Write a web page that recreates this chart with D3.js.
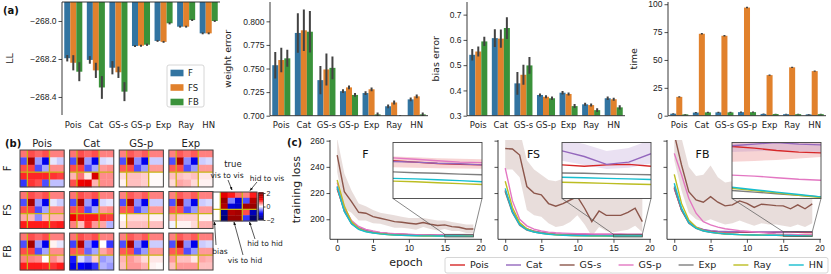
<!DOCTYPE html>
<meta charset="utf-8">
<style>
body { margin: 0; background: #fff; }
svg { font-family: "DejaVu Sans", sans-serif; }
.axis text { font-size: 8.5px; fill: #222; }
.axis line { stroke: #222; stroke-width: 0.8; }
.axis path { display: none; }
.spine { stroke: #222; stroke-width: 0.9; fill: none; }
.lab { font-size: 9.5px; fill: #222; }
.tag { font-size: 10px; font-weight: bold; fill: #111; }
.ann { font-size: 7.5px; fill: #222; }
</style>
<svg width="831" height="274"></svg>
<script src="https://cdn.jsdelivr.net/npm/d3@7"></script>
<script>

var methods = ["Pois", "Cat", "GS-s", "GS-p", "Exp", "Ray", "HN"];
var variants = ["F", "FS", "FB"];
var barColors = ["#3274a1", "#e1812c", "#3a923a"];
var lineColors = ["#d62728", "#9467bd", "#8c564b", "#e377c2", "#7f7f7f", "#bcbd22", "#17becf"];

// (a) log likelihood, weight error, bias error, time  (order = methods)
var llF  = [-268.196, -268.205, -268.246, -268.132, -268.105, -268.030, -268.065];
var llFS = [-268.220, -268.260, -268.270, -268.130, -268.110, -268.030, -268.065];
var llFB = [-268.267, -268.350, -268.372, -268.125, -268.012, -267.995, -268.000];
var llErrF  = [0.017, 0.020, 0.035, 0.005, 0.005, 0.005, 0.005];
var llErrFS = [0.040, 0.040, 0.030, 0.005, 0.005, 0.005, 0.005];
var llErrFB = [0.050, 0.060, 0.050, 0.006, 0.006, 0.005, 0.005];

var weF  = [0.7535, 0.7877, 0.7377, 0.7260, 0.7240, 0.7100, 0.7173];
var weFS = [0.7590, 0.7905, 0.7490, 0.7300, 0.7280, 0.7140, 0.7205];
var weFB = [0.7608, 0.7890, 0.7507, 0.7220, 0.7014, 0.6995, 0.7014];
var weErrF  = [0.014, 0.021, 0.015, 0.002, 0.002, 0.002, 0.002];
var weErrFS = [0.013, 0.022, 0.017, 0.002, 0.002, 0.002, 0.002];
var weErrFB = [0.009, 0.022, 0.012, 0.002, 0.002, 0.001, 0.002];

var beF  = [0.541, 0.607, 0.428, 0.382, 0.391, 0.345, 0.369];
var beFS = [0.554, 0.605, 0.462, 0.375, 0.386, 0.342, 0.365];
var beFB = [0.594, 0.647, 0.499, 0.369, 0.338, 0.322, 0.333];
var beErrF  = [0.023, 0.035, 0.045, 0.006, 0.007, 0.006, 0.007];
var beErrFS = [0.020, 0.036, 0.040, 0.006, 0.006, 0.006, 0.006];
var beErrFB = [0.018, 0.043, 0.033, 0.007, 0.008, 0.007, 0.008];

var tF  = [1.8, 2.8, 3.0, 3.2, 1.6, 1.4, 1.2];
var tFS = [16.9, 73.5, 71.7, 97.0, 36.4, 43.4, 40.0];
var tFB = [1.2, 3.0, 3.0, 3.2, 1.5, 1.4, 1.4];
var tErrF  = [0.4, 0.5, 0.5, 0.5, 0.3, 0.3, 0.3];
var tErrFS = [0.6, 0.7, 0.7, 0.7, 0.6, 0.6, 0.6];
var tErrFB = [0.3, 0.5, 0.5, 0.5, 0.3, 0.3, 0.3];

// (b) learned weight matrices (rows: 3 vis + 2 hid; cols: bias, 3 vis, 2 hid)
var hmCols = ["Pois", "Cat", "GS-p", "Exp"];
var wF_Pois = [[0.55,0.7,0.6,0.7,0.5,0.5],[-0.7,1.7,-0.4,-1.1,-0.1,-0.2],[0.7,0.75,-0.7,-0.35,0.45,0.45],[0.85,0.85,0.85,0.85,0.8,0.75],[-0.8,0.8,0.7,-0.7,-0.25,-0.25]];
var wF_Cat  = [[0.55,0.7,0.6,0.7,0.5,0.5],[-0.7,1.7,-0.4,-1.1,-0.15,-0.1],[0.7,0.75,-0.7,-0.35,0.4,0.45],[0.3,0.55,0.1,1.3,0.45,0.45],[0.7,1.1,1.2,0.3,0.45,0.45]];
var wF_GSp  = [[0.5,0.65,0.55,0.65,0.5,0.5],[-0.7,1.7,-0.45,-1.1,-0.2,-0.2],[0.65,0.7,-0.7,-0.4,0.4,0.4],[0.15,0.25,0.25,0.2,0.02,0.02],[0.05,0.25,0.25,0.2,0.02,0.02]];
var wF_Exp  = [[0.5,0.65,0.55,0.65,0.5,0.5],[-0.7,1.7,-0.45,-1.1,-0.2,-0.15],[0.65,0.7,-0.7,-0.4,0.4,0.4],[0.25,0.25,0.2,0.25,0.1,0.1],[0.15,0.35,0.3,0.15,0.05,0.05]];
var wFS_Pois = [[0.55,0.7,0.6,0.7,0.5,0.5],[-0.7,1.7,-0.4,-1.1,-0.1,-0.2],[0.7,0.75,-0.7,-0.35,0.45,0.45],[0.35,0.3,-0.45,0.25,0.3,0.3],[0.9,0.9,0.9,0.9,0.85,0.9]];
var wFS_Cat  = [[0.55,0.7,0.6,0.7,0.5,0.5],[-0.7,1.7,-0.4,-1.1,-0.15,-0.1],[0.7,0.75,-0.7,-0.35,0.4,0.45],[1.1,0.9,0.9,0.9,0.8,0.75],[0.5,0.25,0.8,0.4,0.35,-0.3]];
var wFS_GSp  = [[0.5,0.65,0.55,0.65,0.5,0.5],[-0.7,1.7,-0.45,-1.1,-0.2,-0.2],[0.65,0.7,-0.7,-0.4,0.4,0.4],[0.02,0.15,0.15,0.15,0.05,0.05],[0.1,0.25,0.25,0.25,0.25,0.25]];
var wFS_Exp  = [[0.5,0.65,0.55,0.65,0.5,0.5],[-0.7,1.7,-0.45,-1.1,-0.2,-0.15],[0.65,0.7,-0.7,-0.4,0.4,0.4],[0.3,0.2,0.2,0.2,0.05,0.05],[-0.05,0.05,0.05,0.15,0.3,0.3]];
var wFB_Pois = [[0.55,0.7,0.6,0.7,0.5,0.5],[-0.7,1.7,-0.4,-1.1,0.05,-0.1],[0.7,0.75,-0.7,-0.35,0.45,0.45],[0.5,0.5,0.45,0.0,0.45,0.3],[0.9,0.9,0.9,0.85,0.8,0.9]];
var wFB_Cat  = [[0.55,0.7,0.6,0.7,0.5,0.5],[-0.75,1.6,-0.45,-1.0,0.0,-0.8],[0.65,0.65,-0.6,-0.35,0.35,0.5],[-0.9,-0.15,-0.4,0.2,-0.4,-0.3],[-1.1,-1.0,-1.2,-0.8,-0.3,-0.4]];
var wFB_GSp  = [[0.5,0.65,0.55,0.65,0.5,0.5],[-0.7,1.7,-0.45,-1.1,-0.2,-0.2],[0.65,0.7,-0.7,-0.4,0.4,0.4],[0.3,0.4,0.3,0.15,0.1,0.1],[0.25,0.4,0.4,0.3,0.05,0.02]];
var wFB_Exp  = [[0.5,0.65,0.55,0.65,0.5,0.5],[-0.7,1.7,-0.45,-1.1,-0.2,-0.15],[0.65,0.7,-0.7,-0.4,0.4,0.4],[0.4,0.25,0.25,0.1,0.35,0.3],[0.25,0.4,0.4,0.4,0.25,0.25]];
var wTrue = [[0,1.2,0.9,0.6,0.5,0.9],[0,1.8,-0.5,-1.2,-0.7,1.6],[0,1.6,-1.2,-1.3,1.7,1.8],[0,-1.6,1.6,1.7,0.7,-1.4],[0,-1.8,1.8,1.8,-0.8,-1.8]];
var cbTicks = [-2, 0, 2];

// (c) training loss per epoch (0..19), series order = methods
var lossF = [
  [223, 207, 197, 193, 191.5, 190.3, 189.6, 189.1, 188.8, 188.5, 188.3, 188.2, 188.1, 188.0, 187.9, 187.85, 187.8, 187.75, 187.72, 187.7],
  [225, 208, 198, 193.5, 191.7, 190.5, 189.7, 189.2, 188.8, 188.5, 188.3, 188.2, 188.1, 188.0, 187.9, 187.82, 187.8, 187.76, 187.74, 187.7],
  [249, 221, 213.5, 205.3, 204.6, 202, 200.8, 199.5, 198.2, 197.7, 197, 196.4, 197.5, 196.2, 195.2, 195.7, 194.4, 193.9, 192.6, 192.6],
  [228, 209, 199, 194.5, 192.3, 191, 190, 189.4, 189, 188.7, 188.5, 188.3, 188.2, 188.1, 188.0, 187.95, 187.9, 187.85, 187.8, 187.78],
  [224, 206, 196.5, 192.5, 190.8, 189.8, 189.1, 188.6, 188.3, 188.0, 187.85, 187.7, 187.6, 187.55, 187.5, 187.45, 187.42, 187.4, 187.37, 187.35],
  [230, 210, 198, 193, 190.8, 189.6, 188.9, 188.4, 188.0, 187.7, 187.5, 187.35, 187.25, 187.2, 187.15, 187.12, 187.1, 187.06, 187.03, 187.0],
  [225, 206, 196.5, 192.3, 190.5, 189.5, 188.8, 188.3, 187.95, 187.7, 187.55, 187.45, 187.35, 187.3, 187.25, 187.22, 187.2, 187.17, 187.14, 187.1]
];
var lossFS = [
  [222, 206, 196.5, 192.5, 190.8, 189.8, 189.1, 188.6, 188.3, 188.1, 187.95, 187.85, 187.8, 187.75, 187.72, 187.7, 187.65, 187.7, 187.72, 187.65],
  [222, 206, 196.5, 192.6, 190.9, 189.9, 189.2, 188.8, 188.6, 188.5, 188.4, 188.35, 188.3, 188.25, 188.22, 188.2, 188.0, 187.72, 187.8, 188.1],
  [254, 253.6, 249, 225, 220, 218.6, 212, 210, 212, 214.7, 217.3, 208.4, 198.2, 206.3, 203, 203, 203, 205.3, 208.4, 198.2],
  [239, 214, 200, 195, 192.5, 191, 190.2, 189.7, 189.4, 189.2, 189.0, 188.9, 188.85, 188.8, 188.75, 188.7, 188.7, 188.65, 188.65, 188.6],
  [221, 205, 195.5, 191.8, 190.2, 189.3, 188.7, 188.3, 188.0, 187.8, 187.65, 187.55, 187.5, 187.47, 187.44, 187.41, 187.4, 187.38, 187.36, 187.35],
  [229, 209, 197.5, 192.8, 190.6, 189.4, 188.7, 188.2, 187.85, 187.6, 187.45, 187.3, 187.22, 187.17, 187.12, 187.08, 187.06, 187.04, 187.02, 187.0],
  [223.6, 205.5, 196, 192, 190.3, 189.3, 188.6, 188.1, 187.8, 187.6, 187.47, 187.4, 187.35, 187.3, 187.28, 187.26, 187.24, 187.22, 187.2, 187.18]
];
var lossFB = [
  [223.6, 207, 197.5, 193.5, 191.8, 190.9, 190.5, 190.3, 190.2, 190.1, 190.0, 190.0, 190.0, 190.0, 190.1, 190.25, 190.15, 190.0, 189.9, 189.85],
  [223.6, 207.5, 198, 194, 192.2, 191.3, 190.8, 190.6, 190.5, 190.4, 190.35, 190.3, 190.3, 190.3, 190.3, 190.3, 190.4, 190.5, 190.4, 190.35],
  [265, 241.4, 221, 214.7, 213, 217.3, 213, 210.2, 211, 214, 212.2, 209, 211.5, 211, 210.4, 210.2, 208, 211, 208, 211.7],
  [250.3, 234, 216, 204.6, 198.2, 195.7, 194, 192.8, 192, 191.3, 190.8, 190.4, 189.8, 189.3, 188.8, 188.46, 188.4, 188.3, 188.2, 188.14],
  [225, 207, 197, 193, 191, 190, 189.3, 188.8, 188.5, 188.3, 188.1, 188.0, 187.9, 187.8, 187.7, 187.5, 187.4, 187.3, 187.2, 187.1],
  [234.3, 212, 199.5, 194, 191.5, 190.2, 189.4, 188.9, 188.6, 188.3, 188.1, 188.0, 187.9, 187.8, 187.7, 187.63, 187.5, 187.35, 187.2, 187.06],
  [227.5, 208.5, 197.5, 193.2, 191.2, 190.1, 189.4, 188.9, 188.6, 188.3, 188.1, 188.0, 187.9, 187.8, 187.75, 187.7, 187.55, 187.4, 187.25, 187.1]
];
// GS-s spread
var gssLoF  = [236, 208, 205, 199, 199, 197, 196.5, 195, 193.5, 193.5, 193, 192, 194, 192.5, 191.5, 192.5, 191, 191, 189.5, 189.5];
var gssHiF  = [262, 235, 222, 212, 210, 207, 205, 204, 203, 202, 201, 201, 201, 200, 199, 199, 198, 197, 196, 196];
var gssLoFS = [238, 238, 232, 207, 203, 202, 197, 194, 195, 198, 203, 196, 187, 194, 191, 190, 191, 192, 195, 190];
var gssHiFS = [272, 270, 268, 245, 238, 234, 230, 229, 231, 232, 228, 224, 218, 222, 221, 221, 220, 222, 224, 222];
var gssLoFB = [245, 222, 205, 200, 198, 200, 198, 196, 197, 199, 197, 195, 197, 196, 196, 195, 194, 196, 194, 197];
var gssHiFB = [285, 262, 240, 233, 234, 241, 232, 228, 229, 232, 230, 226, 228, 227, 226, 226, 224, 227, 225, 228];
// spreads visible inside the insets (epochs 15..19)
var poisLoF  = [187.62, 187.6, 187.58, 187.57, 187.56];
var poisHiF  = [188.0, 187.97, 187.94, 187.92, 187.9];
var catLoFS  = [187.85, 187.7, 187.55, 187.6, 187.75];
var catHiFS  = [188.6, 188.45, 188.2, 188.3, 188.6];
var poisLoFB = [189.3, 189.35, 189.4, 189.5, 189.6];
var poisHiFB = [190.8, 190.8, 190.8, 190.8, 190.8];
var catLoFB  = [189.9, 189.95, 190.0, 189.95, 189.9];
var catHiFB  = [190.8, 190.9, 191.0, 190.9, 190.8];

var svg = d3.select("svg");
var defs = svg.append("defs");

// ---------------- (a) bar charts ----------------
function barChart(o) {
  var g = svg.append("g");
  var x = d3.scaleBand().domain(methods).range([o.left, o.right]);
  var x1 = d3.scaleBand().domain(variants).range([x.bandwidth() * 0.1, x.bandwidth() * 0.9]);
  var y = d3.scaleLinear().domain(o.domain).range([o.bottom, o.top]);
  defs.append("clipPath").attr("id", "clip" + o.id).append("rect")
      .attr("x", o.left).attr("y", o.top)
      .attr("width", o.right - o.left).attr("height", o.bottom - o.top);
  var plot = g.append("g").attr("clip-path", "url(#clip" + o.id + ")");
  o.values.forEach(function(vals, k) {
    var bx = function(d, i) { return x(methods[i]) + x1(variants[k]); };
    plot.selectAll(null).data(vals).enter().append("rect")
        .attr("fill", barColors[k])
        .attr("x", bx)
        .attr("width", x1.bandwidth())
        .attr("y", function(d) { return o.fromTop ? o.top : Math.min(y(d), o.bottom); })
        .attr("height", function(d) { return o.fromTop ? y(d) - o.top : Math.max(0, o.bottom - y(d)); });
    plot.selectAll(null).data(vals).enter().append("line")
        .attr("stroke", "#424242").attr("stroke-width", 2)
        .attr("x1", function(d, i) { return bx(d, i) + x1.bandwidth() / 2; })
        .attr("x2", function(d, i) { return bx(d, i) + x1.bandwidth() / 2; })
        .attr("y1", function(d, i) { return y(d - o.errors[k][i]); })
        .attr("y2", function(d, i) { return y(d + o.errors[k][i]); });
  });
  g.append("g").attr("class", "axis")
      .attr("transform", "translate(" + o.left + ",0)")
      .call(d3.axisLeft(y).tickValues(o.ticks).tickFormat(d3.format(o.fmt))
        .tickSize(3.5).tickSizeOuter(0).tickPadding(2));
  g.append("line").attr("class", "spine")
      .attr("x1", o.left).attr("x2", o.left).attr("y1", o.top).attr("y2", o.bottom);
  var hy = o.fromTop ? o.top : o.bottom;
  g.append("line").attr("class", "spine")
      .attr("x1", o.left).attr("x2", o.right).attr("y1", hy).attr("y2", hy);
  g.selectAll(null).data(methods).enter().append("text")
      .style("font-size", "8.5px").attr("fill", "#222")
      .attr("text-anchor", "middle")
      .attr("x", function(d) { return x(d) + x.bandwidth() / 2; })
      .attr("y", 128)
      .text(function(d) { return d; });
  g.append("text").attr("class", "lab")
      .attr("transform", "translate(" + o.labelX + "," + (o.top + o.bottom) / 2 + ") rotate(-90)")
      .attr("text-anchor", "middle")
      .text(o.label);
}

barChart({id: "ll", left: 62, right: 220, top: 2, bottom: 115, domain: [-268.495, -267.9],
  ticks: [-268.4, -268.2, -268.0], fmt: ".1f", fromTop: true, label: "LL", labelX: 13,
  values: [llF, llFS, llFB], errors: [llErrF, llErrFS, llErrFB]});
barChart({id: "we", left: 270, right: 428, top: 2, bottom: 115.7, domain: [0.7, 0.8205],
  ticks: [0.7, 0.725, 0.75, 0.775, 0.8], fmt: ".3f", label: "weight error", labelX: 231,
  values: [weF, weFS, weFB], errors: [weErrF, weErrFS, weErrFB]});
barChart({id: "be", left: 467, right: 625, top: 2, bottom: 115.7, domain: [0.3, 0.75],
  ticks: [0.3, 0.4, 0.5, 0.6, 0.7], fmt: ".1f", label: "bias error", labelX: 439,
  values: [beF, beFS, beFB], errors: [beErrF, beErrFS, beErrFB]});
barChart({id: "tm", left: 668, right: 826, top: 2, bottom: 115.7, domain: [0, 102],
  ticks: [0, 25, 50, 75, 100], fmt: "d", label: "time", labelX: 637,
  values: [tF, tFS, tFB], errors: [tErrF, tErrFS, tErrFB]});

// legend of (a)
var legA = svg.append("g");
legA.append("rect").attr("x", 167).attr("y", 65).attr("width", 37).attr("height", 42)
    .attr("rx", 2).attr("fill", "#fff").attr("stroke", "#ccc").attr("stroke-width", 0.8);
variants.forEach(function(v, k) {
  var cy = 73 + k * 14.5;
  legA.append("rect").attr("x", 170.5).attr("y", cy - 3.3).attr("width", 13).attr("height", 6.6)
      .attr("fill", barColors[k]);
  legA.append("text").attr("x", 188).attr("y", cy + 3).style("font-size", "8.5px")
      .attr("fill", "#222").text(v);
});

svg.append("text").attr("class", "tag").attr("x", 3).attr("y", 14).text("(a)");

// ---------------- (b) heatmaps ----------------
var seismic = d3.scaleLinear().domain([-2, -1, 0, 1, 2])
    .range(["#00004c", "#0000ff", "#ffffff", "#ff0000", "#800000"]).clamp(true);

function heatmap(m, x0, y0, w, h) {
  var g = svg.append("g");
  var cx = d3.scaleBand().domain(d3.range(m[0].length)).range([x0, x0 + w]);
  var cy = d3.scaleBand().domain(d3.range(m.length)).range([y0, y0 + h]);
  m.forEach(function(row, r) {
    g.selectAll(null).data(row).enter().append("rect")
        .attr("x", function(d, c) { return cx(c); })
        .attr("y", cy(r))
        .attr("width", cx.bandwidth() + 0.3).attr("height", cy.bandwidth() + 0.3)
        .attr("fill", function(d) { return seismic(d); });
  });
  [1, 4].forEach(function(c) {
    g.append("line").attr("x1", cx(c)).attr("x2", cx(c)).attr("y1", y0).attr("y2", y0 + h)
        .attr("stroke", "#c8b414").attr("stroke-width", 1.3);
  });
  g.append("line").attr("x1", x0).attr("x2", x0 + w).attr("y1", cy(3)).attr("y2", cy(3))
      .attr("stroke", "#c8b414").attr("stroke-width", 1.3);
  g.append("rect").attr("x", x0).attr("y", y0).attr("width", w).attr("height", h)
      .attr("fill", "none").attr("stroke", "#444").attr("stroke-width", 1);
}

var hmGrid = [
  [wF_Pois, wF_Cat, wF_GSp, wF_Exp],
  [wFS_Pois, wFS_Cat, wFS_GSp, wFS_Exp],
  [wFB_Pois, wFB_Cat, wFB_GSp, wFB_Exp]
];
var hmX = d3.scaleBand().domain(hmCols).range([20, 213]).paddingInner(0.11);
var hmY = d3.scaleBand().domain(variants).range([150, 270]).paddingInner(0.11);
hmGrid.forEach(function(row, r) {
  row.forEach(function(m, c) {
    heatmap(m, hmX(hmCols[c]), hmY(variants[r]), hmX.bandwidth(), hmY.bandwidth());
  });
});
svg.selectAll(null).data(hmCols).enter().append("text")
    .attr("x", function(d) { return hmX(d) + hmX.bandwidth() / 2; })
    .attr("y", 147).attr("text-anchor", "middle").style("font-size", "10px").attr("fill", "#222")
    .text(function(d) { return d; });
svg.selectAll(null).data(variants).enter().append("text")
    .attr("transform", function(d) { return "translate(11," + (hmY(d) + hmY.bandwidth() / 2) + ") rotate(-90)"; })
    .attr("text-anchor", "middle").style("font-size", "10px").attr("fill", "#222")
    .text(function(d) { return d; });
svg.append("text").attr("class", "tag").attr("x", 5).attr("y", 147).text("(b)");

// true matrix + colorbar
heatmap(wTrue, 213, 192, 44, 29);
var cb = d3.scaleLinear().domain([-2, 2]).range([220, 193]);
var cbSteps = d3.range(-2, 2.001, 0.1);
svg.append("g").selectAll("rect").data(cbSteps).enter().append("rect")
    .attr("x", 258.5).attr("width", 5)
    .attr("y", function(d) { return cb(d) - 0.8; }).attr("height", 1.1)
    .attr("fill", function(d) { return seismic(d); });
svg.append("rect").attr("x", 258.5).attr("y", 193).attr("width", 5).attr("height", 27)
    .attr("fill", "none").attr("stroke", "#333").attr("stroke-width", 0.8);
svg.append("g").attr("class", "axis").attr("transform", "translate(263.5,0)")
    .call(d3.axisRight(cb).tickValues(cbTicks).tickFormat(d3.format("d")).tickSize(2).tickPadding(1))
    .selectAll("text").style("font-size", "7px");
svg.append("text").attr("x", 233).attr("y", 167).attr("text-anchor", "middle")
    .style("font-size", "8.5px").attr("fill", "#222").text("true");

defs.append("marker").attr("id", "arr").attr("viewBox", "0 0 10 10").attr("refX", 9).attr("refY", 5)
    .attr("markerWidth", 5).attr("markerHeight", 5).attr("orient", "auto")
  .append("path").attr("d", "M0,1L10,5L0,9z").attr("fill", "#111");
var notes = [
  {t: "vis to vis", tx: 227, ty: 178, x1: 228, y1: 180, x2: 232, y2: 190},
  {t: "hid to vis", tx: 267, ty: 181, x1: 257, y1: 182, x2: 250, y2: 190.5},
  {t: "bias", tx: 220, ty: 253.5, x1: 216, y1: 245, x2: 214.5, y2: 222},
  {t: "hid to hid", tx: 265, ty: 246, x1: 255, y1: 239, x2: 249.5, y2: 222},
  {t: "vis to hid", tx: 245, ty: 263, x1: 243, y1: 255, x2: 234, y2: 222}
];
notes.forEach(function(n) {
  svg.append("text").attr("class", "ann").attr("x", n.tx).attr("y", n.ty)
      .attr("text-anchor", "middle").text(n.t);
  svg.append("line").attr("x1", n.x1).attr("y1", n.y1).attr("x2", n.x2).attr("y2", n.y2)
      .attr("stroke", "#111").attr("stroke-width", 0.7).attr("marker-end", "url(#arr)");
});

// ---------------- (c) training loss ----------------
var epochs = d3.range(20);
var lossTop = 140, lossBottom = 239.3;
var insTop = 142.5, insBottom = 198.5;

function lossPanel(o) {
  var g = svg.append("g");
  var x = d3.scaleLinear().domain([-1, 20.2]).range([o.left, o.right]);
  var y = d3.scaleLinear().domain([184.7, 260.5]).range([lossBottom, lossTop]);
  defs.append("clipPath").attr("id", "clip" + o.id).append("rect")
      .attr("x", o.left).attr("y", lossTop).attr("width", o.right - o.left).attr("height", lossBottom - lossTop);
  var plot = g.append("g").attr("clip-path", "url(#clip" + o.id + ")");
  var area = d3.area().x(function(d) { return x(d[0]); })
      .y0(function(d) { return y(d[1]); }).y1(function(d) { return y(d[2]); });
  plot.append("path").attr("fill", lineColors[2]).attr("fill-opacity", 0.2)
      .attr("d", area(epochs.map(function(e) { return [e, o.lo[e], o.hi[e]]; })));
  var line = d3.line().x(function(d, i) { return x(i); }).y(function(d) { return y(d); });
  o.data.forEach(function(s, k) {
    plot.append("path").attr("fill", "none").attr("stroke", lineColors[k])
        .attr("stroke-width", 1.4).attr("d", line(s));
  });
  g.append("g").attr("class", "axis").attr("transform", "translate(0," + lossBottom + ")")
      .call(d3.axisBottom(x).tickValues([0, 5, 10, 15, 20]).tickSize(3.5).tickSizeOuter(0).tickPadding(2));
  g.append("g").attr("class", "axis").attr("transform", "translate(" + o.left + ",0)")
      .call(d3.axisLeft(y).tickValues([200, 220, 240, 260]).tickSize(3.5).tickSizeOuter(0).tickPadding(2)
        .tickFormat(o.yLabels ? d3.format("d") : ""));
  g.append("path").attr("class", "spine")
      .attr("d", "M" + o.left + "," + lossTop + "V" + lossBottom + "H" + o.right);
  g.append("text").attr("x", o.left + 35.5).attr("y", 158).attr("text-anchor", "middle")
      .style("font-size", "11px").attr("fill", "#111").text(o.title);

  // zoomed inset on the last epochs
  var iL = o.right - 89, iR = o.right;
  var ix = d3.scaleLinear().domain([15, 19]).range([iL, iR]);
  var iy = d3.scaleLinear().domain(o.insetDomain).range([insBottom, insTop]);
  var rx0 = x(15), rx1 = x(19), ry0 = y(o.insetDomain[1]), ry1 = y(o.insetDomain[0]);
  g.append("rect").attr("x", rx0).attr("y", ry0).attr("width", rx1 - rx0).attr("height", ry1 - ry0)
      .attr("fill", "none").attr("stroke", "#555").attr("stroke-width", 0.8);
  g.append("line").attr("x1", iL).attr("y1", insBottom).attr("x2", rx0).attr("y2", ry0)
      .attr("stroke", "#555").attr("stroke-width", 0.7);
  g.append("line").attr("x1", iR).attr("y1", insBottom).attr("x2", rx1).attr("y2", ry0)
      .attr("stroke", "#555").attr("stroke-width", 0.7);
  defs.append("clipPath").attr("id", "iclip" + o.id).append("rect")
      .attr("x", iL).attr("y", insTop).attr("width", iR - iL).attr("height", insBottom - insTop);
  g.append("rect").attr("x", iL).attr("y", insTop).attr("width", iR - iL).attr("height", insBottom - insTop)
      .attr("fill", "#fff");
  var ip = g.append("g").attr("clip-path", "url(#iclip" + o.id + ")");
  var iarea = d3.area().x(function(d, i) { return ix(15 + i); })
      .y0(function(d) { return iy(d[0]); }).y1(function(d) { return iy(d[1]); });
  o.insetBands.forEach(function(b) {
    ip.append("path").attr("fill", lineColors[b.k]).attr("fill-opacity", 0.2)
        .attr("d", iarea(d3.zip(b.lo, b.hi)));
  });
  var iline = d3.line().x(function(d, i) { return ix(15 + i); }).y(function(d) { return iy(d); });
  o.data.forEach(function(s, k) {
    ip.append("path").attr("fill", "none").attr("stroke", lineColors[k])
        .attr("stroke-width", 1.4).attr("d", iline(s.slice(15)));
  });
  g.append("rect").attr("x", iL).attr("y", insTop).attr("width", iR - iL).attr("height", insBottom - insTop)
      .attr("fill", "none").attr("stroke", "#444").attr("stroke-width", 0.9);
}

lossPanel({id: "lf", left: 330, right: 482, title: "F", data: lossF, lo: gssLoF, hi: gssHiF,
  yLabels: true, insetDomain: [186.5, 188.5],
  insetBands: [{k: 0, lo: poisLoF, hi: poisHiF}]});
lossPanel({id: "lfs", left: 498, right: 651, title: "FS", data: lossFS, lo: gssLoFS, hi: gssHiFS,
  yLabels: false, insetDomain: [186.5, 188.5],
  insetBands: [{k: 1, lo: catLoFS, hi: catHiFS}]});
lossPanel({id: "lfb", left: 667, right: 821, title: "FB", data: lossFB, lo: gssLoFB, hi: gssHiFB,
  yLabels: false, insetDomain: [187.0, 190.5],
  insetBands: [{k: 0, lo: poisLoFB, hi: poisHiFB}, {k: 1, lo: catLoFB, hi: catHiFB}]});

svg.append("text").attr("transform", "translate(300," + (lossTop + lossBottom) / 2 + ") rotate(-90)")
    .attr("text-anchor", "middle").style("font-size", "11px").attr("fill", "#222").text("training loss");
svg.append("text").attr("x", 406).attr("y", 266).attr("text-anchor", "middle")
    .style("font-size", "11px").attr("fill", "#222").text("epoch");
svg.append("text").attr("class", "tag").attr("x", 287).attr("y", 146).text("(c)");

// legend of (c)
var legC = svg.append("g");
legC.append("rect").attr("x", 445).attr("y", 257.5).attr("width", 383).attr("height", 15.5)
    .attr("rx", 2).attr("fill", "#fff").attr("stroke", "#ccc").attr("stroke-width", 0.8);
var items = legC.selectAll("g").data(methods).enter().append("g");
items.append("line").attr("x1", 0).attr("x2", 15).attr("y1", 0).attr("y2", 0)
    .attr("stroke", function(d, i) { return lineColors[i]; }).attr("stroke-width", 1.4);
items.append("text").attr("x", 20).attr("y", 3.3).style("font-size", "9.5px").attr("fill", "#222")
    .text(function(d) { return d; });
var widths = [];
items.each(function() { widths.push(this.getBBox().width); });
var gap = (383 - 10 - d3.sum(widths)) / 6;
var cursor = 450;
items.attr("transform", function(d, i) {
  var t = "translate(" + cursor + ",265)";
  cursor += widths[i] + gap;
  return t;
});
</script>
